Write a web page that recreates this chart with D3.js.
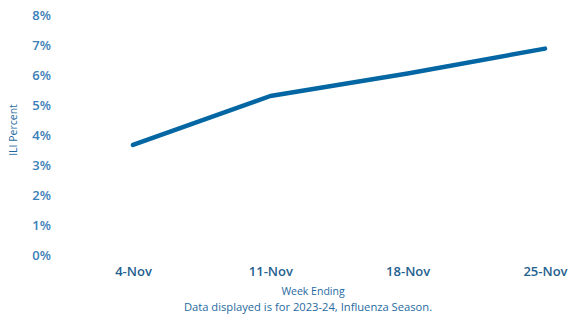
<!DOCTYPE html>
<html><head><meta charset="utf-8">
<script src="https://cdn.jsdelivr.net/npm/d3@7"></script>
<style>body{margin:0;background:#fff;}svg{display:block;font-family:"Open Sans",sans-serif;}</style>
</head><body>
<svg id="chart" width="569" height="314"></svg>
<script>
const categories = ["4-Nov", "11-Nov", "18-Nov", "25-Nov"];
const iliValues = [3.67, 5.3, 6.05, 6.88];
const yTicks = [0, 1, 2, 3, 4, 5, 6, 7, 8];

const svg = d3.select("#chart");
const x = d3.scalePoint().domain(categories).range([133, 545]);
const y = d3.scaleLinear().domain([0, 8]).range([255, 15]);

const yAxis = svg.append("g").attr("transform", "translate(51,0)")
  .call(d3.axisLeft(y).tickValues(yTicks).tickFormat(d => d + "%").tickSize(0).tickPadding(0));
yAxis.select(".domain").remove();
yAxis.selectAll("text").attr("fill", "#3a80b8").attr("font-size", 13).attr("font-weight", 600)
  .attr("font-family", "Open Sans");

const xAxis = svg.append("g").attr("transform", "translate(0,267)")
  .call(d3.axisBottom(x).tickSize(0).tickPadding(0));
xAxis.select(".domain").remove();
xAxis.selectAll("text").attr("fill", "#1f618f").attr("font-size", 13).attr("font-weight", 600)
  .attr("font-family", "Open Sans");

svg.append("text").attr("transform", "translate(17,130) rotate(-90)")
  .attr("text-anchor", "middle").attr("fill", "#1f6aa0").attr("font-size", 10.5)
  .text("ILI Percent");

svg.append("text").attr("x", 313).attr("y", 295).attr("text-anchor", "middle")
  .attr("fill", "#1f6aa0").attr("font-size", 10.5).text("Week Ending");
svg.append("text").attr("x", 308).attr("y", 311).attr("text-anchor", "middle")
  .attr("fill", "#1f6aa0").attr("font-size", 11.2).text("Data displayed is for 2023-24, Influenza Season.");

const line = d3.line().x((d, i) => x(categories[i])).y(d => y(d));
svg.append("path").datum(iliValues).attr("d", line)
  .attr("fill", "none").attr("stroke", "#0467a3").attr("stroke-width", 4.5)
  .attr("stroke-linecap", "round").attr("stroke-linejoin", "round");
</script>
</body></html>
